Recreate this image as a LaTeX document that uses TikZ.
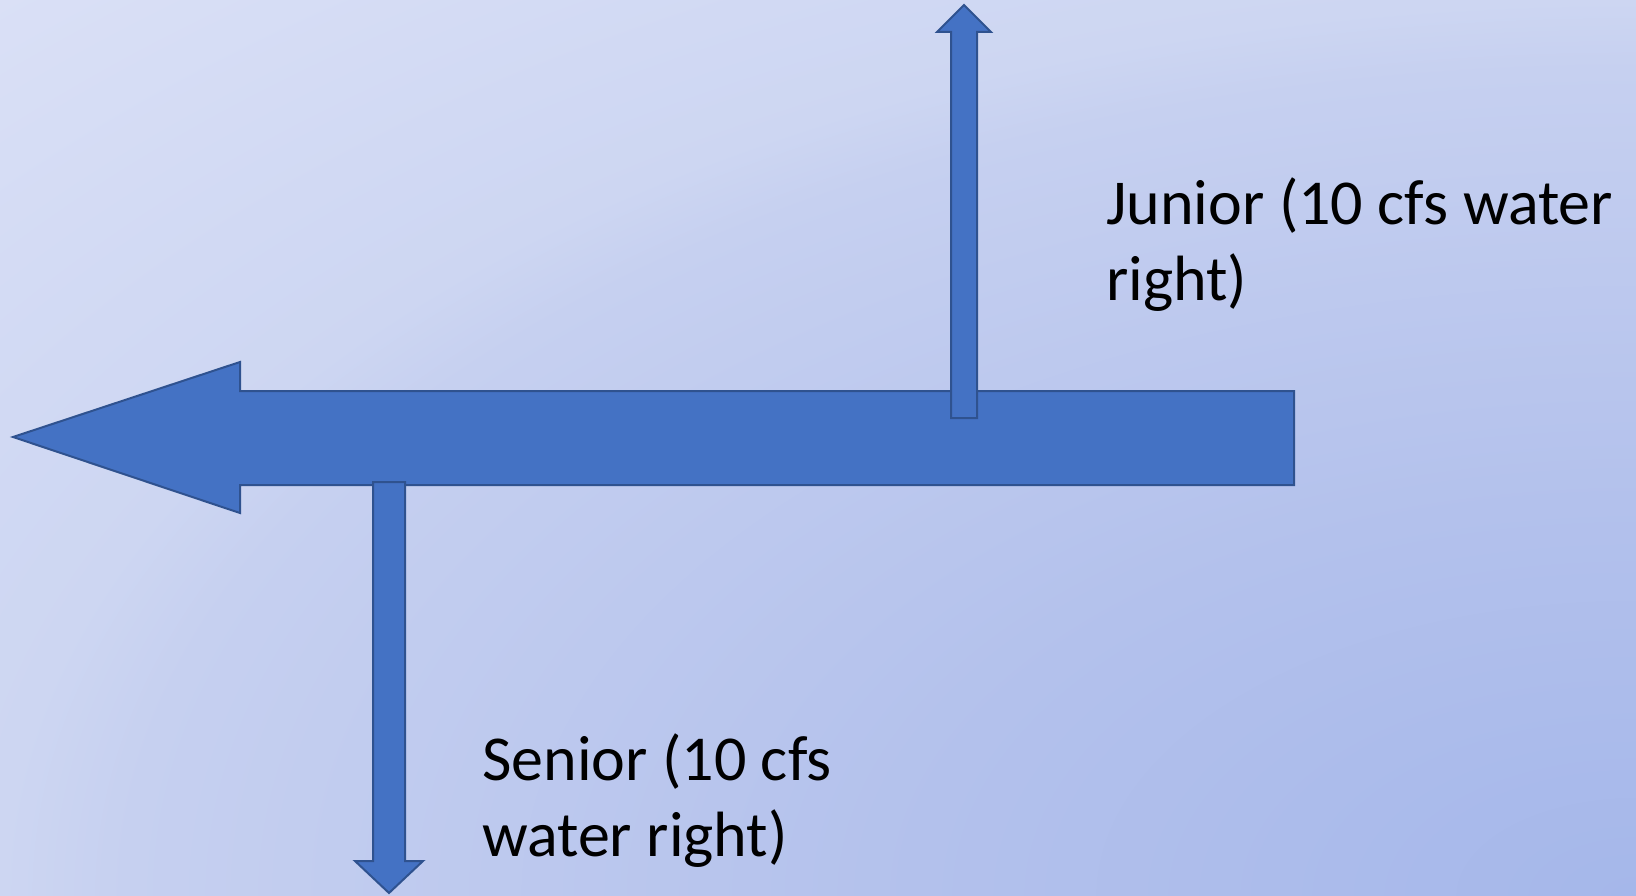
\documentclass[tikz,border=0pt]{standalone}
\usepackage{fontspec}
\setmainfont{Carlito}
\definecolor{bgLight}{HTML}{DAE0F6}
\definecolor{bgEdge}{HTML}{CDD6F2}
\definecolor{bgMid}{HTML}{C6D0F0}
\definecolor{bgInner}{HTML}{B3C1EC}
\definecolor{bgDark}{HTML}{A5B7EA}
\definecolor{flowFill}{HTML}{4472C4}
\definecolor{flowEdge}{HTML}{2F528F}
\pgfdeclareradialshading{riverbg}{\pgfpoint{0bp}{0bp}}{color(0bp)=(bgDark); color(7.75bp)=(bgInner);
    color(16.25bp)=(bgMid); color(17.6bp)=(bgEdge); color(25bp)=(bgLight); color(50bp)=(bgLight)}

\begin{document}
\begin{tikzpicture}[x=1pt,y=-1pt,
    flow/.style={fill=flowFill,draw=flowEdge,line width=2pt,line join=miter},
    rightlabel/.style={anchor=base west,inner sep=0pt,align=left,font=\fontsize{64}{76}\selectfont}]

    \begin{scope}
        \clip (0,0) rectangle (1636,896);
        \shade[shading=riverbg] (1636,896) ellipse [x radius=2323, y radius=1272];
    \end{scope}
    \useasboundingbox (0,0) rectangle (1636,896);

    % river
    \draw[flow] (13,437) -- (240,362) -- (240,391) -- (1294,391) -- (1294,485)
        -- (240,485) -- (240,513) -- cycle;

    % junior diversion
    \draw[flow] (951,418) -- (951,32) -- (937,32) -- (964,5) -- (991,32) -- (977,32)
        -- (977,418) -- cycle;

    % senior diversion
    \draw[flow] (373,482) -- (405,482) -- (405,861) -- (423,861) -- (389,893)
        -- (355,861) -- (373,861) -- cycle;

    \node[rightlabel] (junior) at (1106,300) {Junior (10 cfs water\\right)};
    \node[rightlabel] (senior) at (482,856) {Senior (10 cfs\\water right)};

\end{tikzpicture}
\end{document}
